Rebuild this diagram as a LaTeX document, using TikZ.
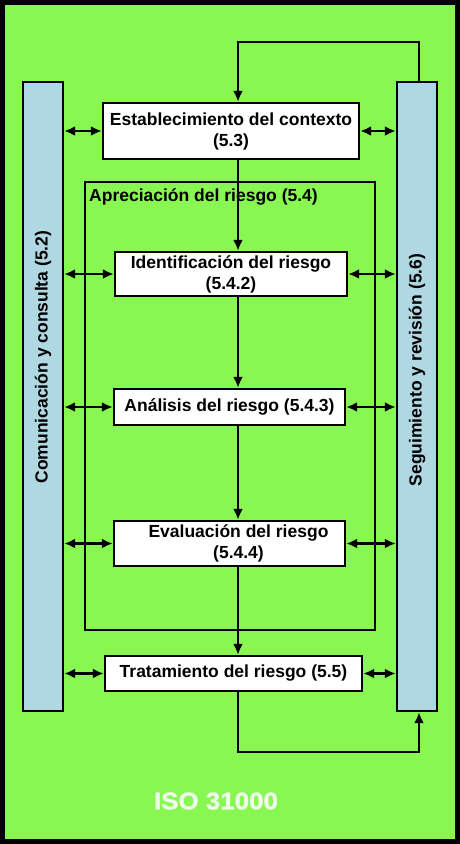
\documentclass[tikz,border=0pt]{standalone}
\usepackage{fontspec}
\setmainfont{Liberation Sans}
\usetikzlibrary{arrows.meta}
\definecolor{isogreen}{RGB}{137,247,82}
\definecolor{barblue}{RGB}{176,216,226}
\definecolor{isowhite}{RGB}{240,250,235}
\begin{document}
\begin{tikzpicture}[x=1pt,y=-1pt,line width=2.4pt,
  >={Latex[length=11pt,width=10pt]},
  txt/.style={font=\fontsize{17.5}{21}\selectfont\bfseries},
  box/.style={txt,draw,fill=white,align=center,inner sep=0pt},
  bar/.style={draw,fill=barblue,minimum width=40pt,minimum height=629pt,inner sep=0pt}]
\useasboundingbox (0,0) rectangle (460,844);
\draw[line width=5pt,fill=isogreen] (2.5,2.5) rectangle (457.5,841.5);
% side bars
\node[bar] (com) at (43,396.5) {};
\node[bar] (seg) at (417,396.5) {};
\node[txt,rotate=90] (comtxt) at (43,357) {Comunicación y consulta (5.2)};
\node[txt,rotate=90] (segtxt) at (417,370) {Seguimiento y revisión (5.6)};
% risk assessment frame
\node[draw,line width=2pt,minimum width=290pt,minimum height=448pt] (apr) at (230,406) {};
\node[txt,anchor=west,inner sep=0pt] (aprtxt) at (88,197) {Apreciación del riesgo (5.4)};
% process boxes
\node[box,minimum width=256pt,minimum height=56pt] (ctx) at (231,131) {Establecimiento del contexto\\(5.3)};
\node[box,minimum width=232pt,minimum height=44pt] (ident) at (231,274) {Identificación del riesgo\\(5.4.2)};
\node[box,minimum width=231pt,minimum height=36pt] (anal) at (229.5,407) {Análisis del riesgo (5.4.3)};
\node[box,minimum width=231pt,minimum height=45pt] (eval) at (229.5,543.5) {\hspace*{18pt}Evaluación del riesgo\\\hspace*{18pt}(5.4.4)};
\node[box,minimum width=257pt,minimum height=35pt] (treat) at (233.5,673.5) {Tratamiento del riesgo (5.5)};
\node[font=\fontsize{24}{24}\selectfont\bfseries\addfontfeatures{FakeBold=1.5},text=isowhite] (iso) at (216,801) {\scalebox{1.08}[1]{ISO 31000}};
% arrows
\coordinate (spine) at (238,0);
\foreach \a/\b in {ctx/ident,ident/anal,anal/eval,eval/treat}
\draw[->] (\a.south -| spine) -- (\b.north -| spine);
\foreach \n in {ctx,ident,anal,eval,treat} {
\draw[<->] (com.east |- \n) -- (\n.west);
\draw[<->] (\n.east) -- (seg.west |- \n);
}
\coordinate (topr) at (419,42);
\coordinate (botr) at (419,752);
\draw[->] (seg.north -| topr) -- (topr) -- (topr -| spine) -- (ctx.north -| spine);
\draw[->] (treat.south -| spine) -- (botr -| spine) -- (botr) -- (seg.south -| botr);
\end{tikzpicture}
\end{document}
